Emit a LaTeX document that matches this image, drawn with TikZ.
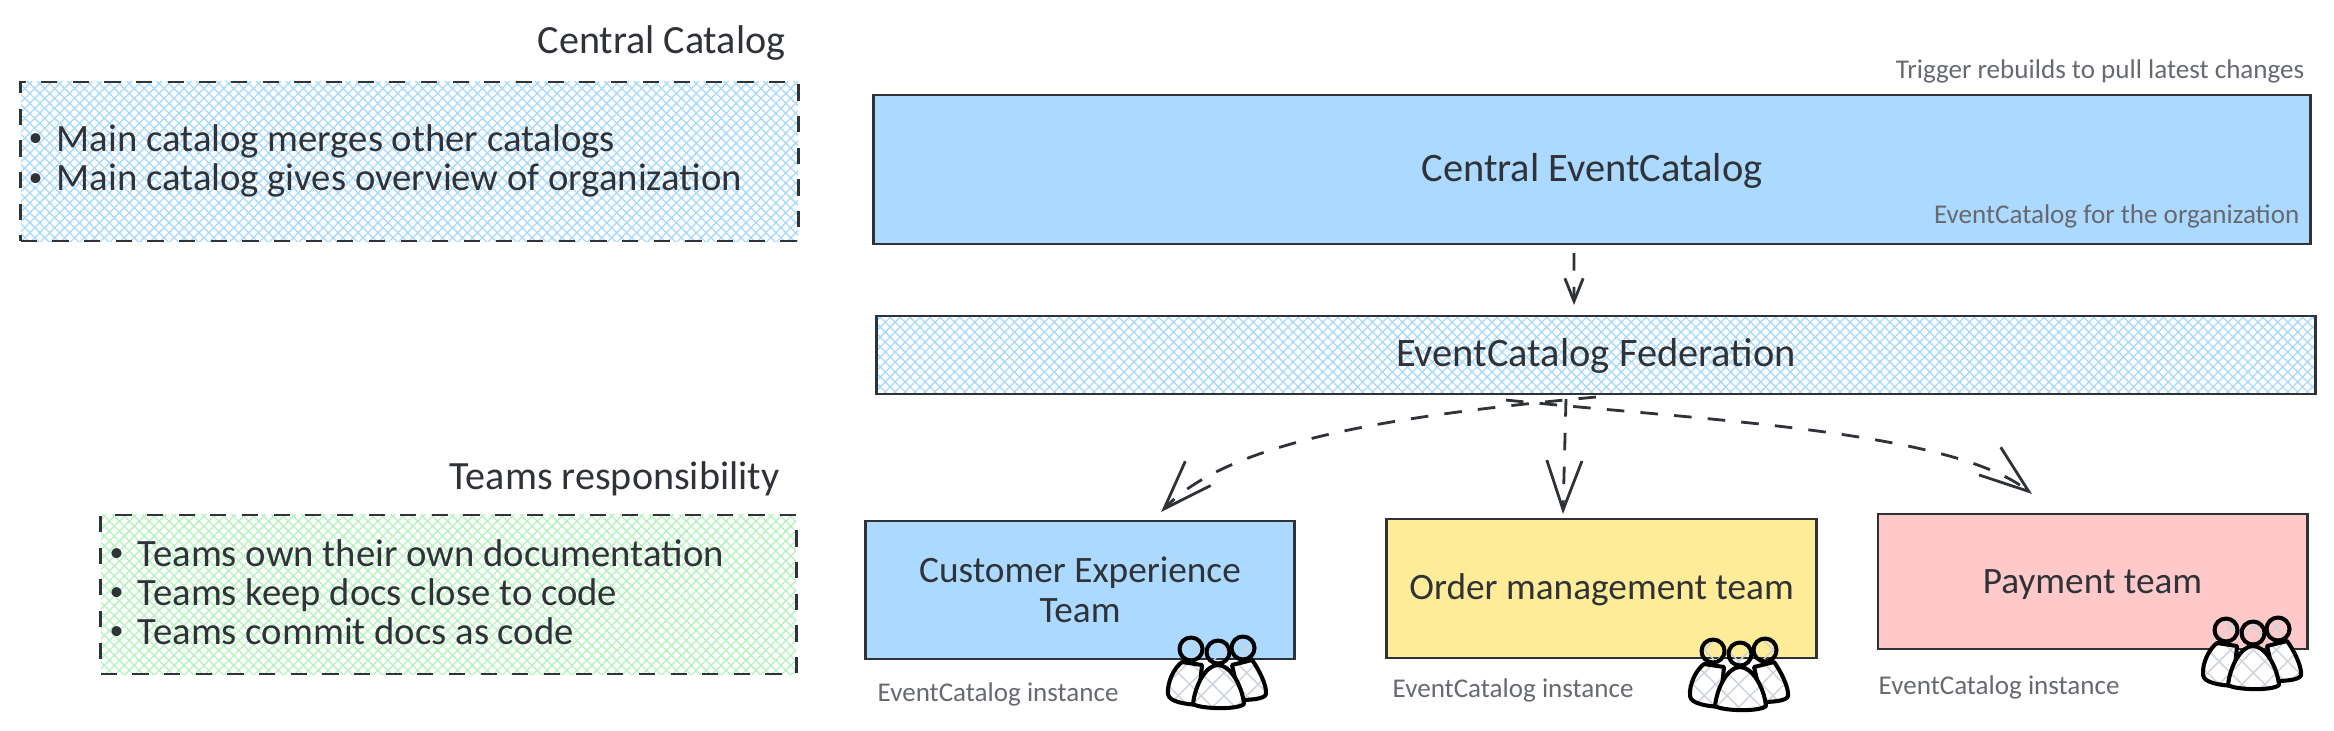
\documentclass[tikz,border=0pt]{standalone}
\usepackage{fontspec}
\setmainfont{Carlito}
\usetikzlibrary{positioning, arrows.meta, patterns.meta}
\definecolor{inkgray}{HTML}{2F3337}
\definecolor{softgray}{HTML}{666A6E}
\definecolor{teamblue}{HTML}{ABD9FF}
\definecolor{teamyellow}{HTML}{FFEC99}
\definecolor{teamred}{HTML}{FFC9C9}
\definecolor{hatchblue}{HTML}{A5D8FF}
\definecolor{hatchgreen}{HTML}{B2F2BB}
\definecolor{hatchgray}{HTML}{CED4DA}
\newcommand{\itemdot}{\makebox[8pt][l]{\raisebox{.25ex}{\fontsize{8}{8}\selectfont\textbullet}}}
\tikzset{
  crosshatch/.style n args={3}{
    preaction={pattern={Lines[angle=45,distance=#2,line width=#3]},pattern color=#1},
    pattern={Lines[angle=-45,distance=#2,line width=#3]},pattern color=#1},
  sketchbox/.style={draw=inkgray, line width=0.8pt, inner sep=0pt, outer sep=0pt, align=center, text=inkgray, text depth=0pt, font=\fontsize{10.6}{11.4}\selectfont},
  bigbox/.style={sketchbox, text depth=1.2pt, font=\fontsize{11.5}{13}\selectfont},
  notebox/.style={sketchbox, dash pattern=on 4.6pt off 4.4pt},
  heading/.style={anchor=east, inner sep=0pt, text=inkgray, font=\fontsize{11.4}{13}\selectfont},
  listtext/.style={anchor=west, inner sep=0pt, align=left, text=inkgray, font=\fontsize{11}{11.1}\selectfont},
  smalltext/.style={inner sep=0pt, text=softgray, font=\fontsize{7.7}{9}\selectfont},
  flowarrow/.style={draw=inkgray, line width=0.8pt, dash pattern=on 5pt off 4.6pt, -{Straight Barb[length=14pt,width=10pt]}},
  shortarrow/.style={flowarrow, -{Straight Barb[length=6.5pt,width=5.2pt]}},
  teamicon/.pic={
    \begin{scope}[line width=1.15pt, draw=black, line join=round]
    \draw[preaction={fill=white}, crosshatch={hatchgray}{4.6pt}{.42pt}] (112,40) .. controls (118,48) and (127,65) .. (126,74) .. controls (125,79) and (110,80) .. (100,80) -- (92,45) -- cycle;
    \draw[preaction={fill=white}, crosshatch={hatchgray}{4.6pt}{.42pt}] (42,42) .. controls (34,48) and (27,62) .. (28,74) .. controls (29,82) and (45,84) .. (58,85) -- (62,45) -- cycle;
    \draw[preaction={fill=white}, crosshatch={hatchgray}{4.6pt}{.42pt}] (78,45) .. controls (66,45) and (55,65) .. (53,84) .. controls (60,89) and (98,90) .. (104,84) .. controls (102,65) and (90,45) .. (78,45) -- cycle;
    \draw[crosshatch={hatchgray}{4.6pt}{.42pt}] (51,29) circle[radius=11.5];
    \draw[crosshatch={hatchgray}{4.6pt}{.42pt}] (103,28) circle[radius=11.5];
    \draw[crosshatch={hatchgray}{4.6pt}{.42pt}] (78,32) circle[radius=11.5];
    \end{scope}
  }
}
\begin{document}
\begin{tikzpicture}[x=0.01cm, y=-0.01cm]
\useasboundingbox (0,0) rectangle (2334,730);

% Notes on the left
\node[heading] (catalogtitle) at (786,43) {Central Catalog};
\node[notebox, crosshatch={hatchblue}{2pt}{.36pt}, minimum width=7.77cm, minimum height=1.59cm] (catalognotes) at (409.5,161.5) {};
\node[listtext] (catalogitems) at (28,161) {\itemdot Main catalog merges other catalogs\\\itemdot Main catalog gives overview of organization};

\node[heading] (teamstitle) at (780,479) {Teams responsibility};
\node[notebox, crosshatch={hatchgreen}{2pt}{.36pt}, minimum width=6.95cm, minimum height=1.59cm] (teamnotes) at (448.5,594.5) {};
\node[listtext] (teamitems) at (109,592) {\itemdot Teams own their own documentation\\\itemdot Teams keep docs close to code\\\itemdot Teams commit docs as code};

% Catalog boxes
\node[bigbox, fill=teamblue, minimum width=14.36cm, minimum height=1.49cm] (central) at (1592,169.5) {Central EventCatalog};
\node[bigbox, crosshatch={hatchblue}{2pt}{.36pt}, minimum width=14.38cm, minimum height=0.78cm] (federation) at (1596,355) {EventCatalog Federation};

% Team boxes
\node[sketchbox, fill=teamblue, minimum width=4.28cm, minimum height=1.38cm] (customer) at (1080,590) {Customer Experience\\Team};
\node[sketchbox, fill=teamyellow, text depth=1.2pt, minimum width=4.29cm, minimum height=1.39cm] (order) at (1601.5,588.5) {Order management team};
\node[sketchbox, fill=teamred, minimum width=4.29cm, minimum height=1.35cm] (payment) at (2092.5,581.5) {Payment team};

% Small captions
\node[smalltext, anchor=east] (triggertext) at (2305,71) {Trigger rebuilds to pull latest changes};
\node[smalltext, anchor=east] (centraltext) at (2300,216) {EventCatalog for the organization};
\node[smalltext, anchor=west] (customertext) at (877,694) {EventCatalog instance};
\node[smalltext, anchor=west] (ordertext) at (1392,690) {EventCatalog instance};
\node[smalltext, anchor=west] (paymenttext) at (1878,687) {EventCatalog instance};

% Connectors
\draw[shortarrow] ([xshift=-0.18cm,yshift=-0.09cm]central.south) -- ([xshift=-0.22cm,yshift=0.11cm]federation.north);
\draw[flowarrow] ([xshift=-0.30cm,yshift=-0.05cm]federation.south) -- ([xshift=-0.385cm,yshift=0.05cm]order.north);
\draw[flowarrow] ([yshift=-0.03cm]federation.south) .. controls (1400,415) and (1230,440) .. ([xshift=0.81cm,yshift=0.09cm]customer.north);
\draw[flowarrow] ([xshift=-0.90cm,yshift=-0.06cm]federation.south) .. controls (1700,420) and (1950,430) .. ([xshift=-0.605cm,yshift=0.20cm]payment.north);

% People icons
\pic (customerteam) at (1140,620) {teamicon};
\pic (orderteam) at (1662,622) {teamicon};
\pic (paymentteam) at (2175,601) {teamicon};
\end{tikzpicture}
\end{document}
